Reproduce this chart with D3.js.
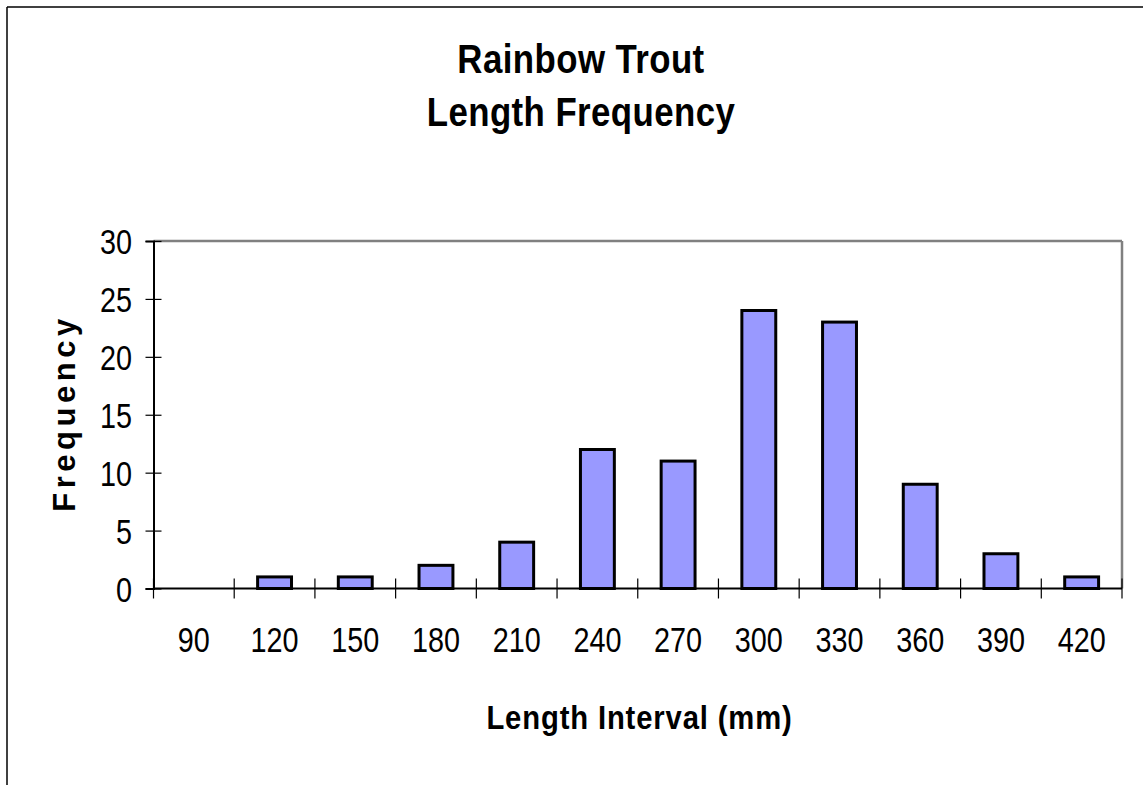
<!DOCTYPE html>
<html>
<head>
<meta charset="utf-8">
<script src="https://cdn.jsdelivr.net/npm/d3@7"></script>
<style>
  html, body { margin: 0; padding: 0; background: #fff; }
  svg { display: block; }
  text { font-family: "Liberation Sans", Arial, sans-serif; fill: #000; }
</style>
</head>
<body>
<svg id="chart" width="1143" height="785"></svg>
<script>
const categories = ["90", "120", "150", "180", "210", "240", "270", "300", "330", "360", "390", "420"];
const frequencies = [0, 1, 1, 2, 4, 12, 11, 24, 23, 9, 3, 1];
const yTicks = [0, 5, 10, 15, 20, 25, 30];
const titleLines = ["Rainbow Trout", "Length Frequency"];
const xTitle = "Length Interval (mm)";
const yTitle = "Frequency";

(function () {
const svg = d3.select("#chart");
const W = 1143, H = 785;
const pLeft = 153.5, pRight = 1122, pTop = 241, pBottom = 588.5;

// outer frame
svg.append("line").attr("x1", 7).attr("y1", 7).attr("x2", W).attr("y2", 7)
  .attr("stroke", "#000").attr("stroke-width", 1.5);
svg.append("line").attr("x1", 7).attr("y1", 7).attr("x2", 7).attr("y2", H)
  .attr("stroke", "#000").attr("stroke-width", 1.5);

const x = d3.scaleBand().domain(categories).range([pLeft, pRight]).paddingInner(0).paddingOuter(0);
const y = d3.scaleLinear().domain([0, 30]).range([pBottom, pTop]);

// plot border top & right (gray)
svg.append("line").attr("x1", pLeft).attr("y1", pTop).attr("x2", pRight).attr("y2", pTop)
  .attr("stroke", "#808080").attr("stroke-width", 2.5);
svg.append("line").attr("x1", pRight).attr("y1", pTop).attr("x2", pRight).attr("y2", pBottom)
  .attr("stroke", "#808080").attr("stroke-width", 2.5);

// bars
const barW = x.bandwidth() * 0.42;
svg.append("g").selectAll("rect").data(categories).join("rect")
  .attr("x", (d) => x(d) + x.bandwidth() / 2 - barW / 2)
  .attr("y", (d, i) => y(frequencies[i]))
  .attr("width", barW)
  .attr("height", (d, i) => y(0) - y(frequencies[i]))
  .attr("fill", "#9999ff")
  .attr("stroke", "#000")
  .attr("stroke-width", 3);

// y axis
const sx = 0.8;
const fs = 36;
const yAxis = svg.append("g").attr("transform", `translate(${pLeft},0)`)
  .call(d3.axisLeft(y).tickValues(yTicks).tickSize(8).tickPadding(0));
yAxis.select(".domain").attr("stroke", "#000").attr("stroke-width", 2);
yAxis.selectAll(".tick line").attr("x1", 8).attr("x2", -8).attr("stroke", "#000").attr("stroke-width", 1.2);
yAxis.selectAll(".tick text")
  .attr("font-size", fs).attr("font-family", "Liberation Sans, Arial, sans-serif")
  .attr("fill", "#000")
  .attr("text-anchor", "end")
  .attr("x", -21.5 / sx).attr("dy", "0.36em")
  .attr("transform", `scale(${sx},1)`);

// x axis
const xAxisG = svg.append("g");
xAxisG.append("line").attr("x1", pLeft).attr("x2", pRight).attr("y1", pBottom).attr("y2", pBottom)
  .attr("stroke", "#000").attr("stroke-width", 2);
const bounds = categories.map((d) => x(d)).concat([pRight]);
xAxisG.selectAll("line.tk").data(bounds).join("line").attr("class", "tk")
  .attr("x1", (d) => d).attr("x2", (d) => d)
  .attr("y1", pBottom - 10).attr("y2", pBottom + 10)
  .attr("stroke", "#000").attr("stroke-width", 1.2);
xAxisG.selectAll("text").data(categories).join("text")
  .attr("transform", (d) => `translate(${x(d) + x.bandwidth() / 2},652) scale(${sx},1)`)
  .attr("text-anchor", "middle")
  .attr("font-size", fs)
  .text((d) => d);

// titles
svg.append("text").attr("text-anchor", "middle")
  .attr("transform", `translate(581,73) scale(0.87,1)`)
  .attr("font-size", 40).attr("font-weight", "bold")
  .attr("letter-spacing", 0.5)
  .text(titleLines[0]);
svg.append("text").attr("text-anchor", "middle")
  .attr("transform", `translate(581,126) scale(0.87,1)`)
  .attr("font-size", 40).attr("font-weight", "bold")
  .attr("letter-spacing", 0.5)
  .text(titleLines[1]);

svg.append("text").attr("text-anchor", "middle")
  .attr("transform", `translate(639.5,729) scale(0.86,1)`)
  .attr("font-size", 34).attr("font-weight", "bold")
  .attr("letter-spacing", 1)
  .text(xTitle);

svg.append("text").attr("text-anchor", "middle")
  .attr("transform", `translate(75,413) rotate(-90)`)
  .attr("font-size", 31).attr("font-weight", "bold")
  .attr("letter-spacing", 4.5)
  .text(yTitle);
})();
</script>
</body>
</html>
